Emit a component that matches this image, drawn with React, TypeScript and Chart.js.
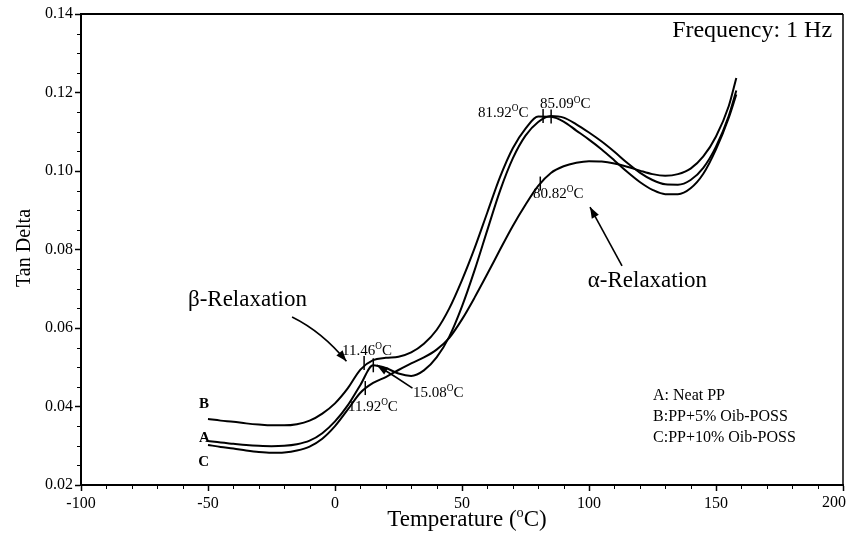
import React, { useEffect, useRef } from 'react';
import { Chart, registerables } from 'chart.js';

Chart.register(...registerables);

// ---- data ----
const temps = [-50, -45, -40, -35, -30, -25, -20, -15, -10, -5, 0, 5, 10, 15, 20, 25, 30, 35, 40, 45, 50, 55, 60, 65, 70, 75, 80, 85, 90, 95, 100, 105, 110, 115, 120, 125, 130, 135, 140, 145, 150, 155, 158];

const tanA = [0.0312, 0.0308, 0.0305, 0.0302, 0.0300, 0.0299, 0.0300, 0.0304, 0.0313, 0.0332, 0.0362, 0.0403, 0.0455, 0.0505, 0.0498, 0.0484, 0.0478, 0.0492, 0.0525, 0.0578, 0.0655, 0.0748, 0.0850, 0.0950, 0.1032, 0.1090, 0.1125, 0.1140, 0.1136, 0.1119, 0.1098, 0.1075, 0.1049, 0.1021, 0.0996, 0.0977, 0.0966, 0.0965, 0.0977, 0.1008, 0.1062, 0.1140, 0.1205];

const tanB = [0.0368, 0.0364, 0.0361, 0.0357, 0.0354, 0.0352, 0.0352, 0.0355, 0.0364, 0.0382, 0.0408, 0.0446, 0.0494, 0.0518, 0.0524, 0.0527, 0.0538, 0.0560, 0.0595, 0.0650, 0.0722, 0.0804, 0.0895, 0.0985, 0.1058, 0.1108, 0.1139, 0.1138, 0.1126, 0.1103, 0.1080, 0.1055, 0.1027, 0.0998, 0.0972, 0.0952, 0.0941, 0.0941, 0.0956, 0.0993, 0.1055, 0.1135, 0.1195];

const tanC = [0.0302, 0.0297, 0.0293, 0.0288, 0.0284, 0.0282, 0.0283, 0.0288, 0.0298, 0.0318, 0.0350, 0.0392, 0.0435, 0.0460, 0.0475, 0.0493, 0.0510, 0.0525, 0.0545, 0.0575, 0.0622, 0.0678, 0.0738, 0.0800, 0.0860, 0.0914, 0.0962, 0.0995, 0.1012, 0.1021, 0.1025, 0.1024, 0.1019, 0.1011, 0.1001, 0.0992, 0.0988, 0.0992, 0.1006, 0.1037, 0.1088, 0.1165, 0.1237];

const seriesNames = ['A', 'B', 'C'];
const legendLines = ['A: Neat PP', 'B:PP+5% Oib-POSS', 'C:PP+10% Oib-POSS'];

// peak markers
const markerTemps = [11.46, 15.08, 11.92, 81.92, 85.09, 80.82];
const markerVals = [0.0511, 0.0505, 0.0447, 0.1140, 0.1139, 0.0968];

const xMin = -100, xMax = 200, xStep = 50, xMinor = 10;
const yMin = 0.02, yMax = 0.14, yStep = 0.02, yMinor = 0.005;

const SERIF = '"Liberation Serif", "Times New Roman", serif';

function drawSup(ctx: CanvasRenderingContext2D, before: string, sup: string, after: string, x: number, y: number, size: number, align: 'left' | 'center' | 'right' = 'left') {
  const small = size * 0.62;
  ctx.font = `${size}px ${SERIF}`;
  const w1 = ctx.measureText(before).width;
  const w3 = ctx.measureText(after).width;
  ctx.font = `${small}px ${SERIF}`;
  const w2 = ctx.measureText(sup).width;
  const total = w1 + w2 + w3;
  let sx = x;
  if (align === 'center') sx = x - total / 2;
  if (align === 'right') sx = x - total;
  ctx.textAlign = 'left';
  ctx.textBaseline = 'alphabetic';
  ctx.font = `${size}px ${SERIF}`;
  ctx.fillText(before, sx, y);
  ctx.font = `${small}px ${SERIF}`;
  ctx.fillText(sup, sx + w1, y - size * 0.38);
  ctx.font = `${size}px ${SERIF}`;
  ctx.fillText(after, sx + w1 + w2, y);
}

function arrow(ctx: CanvasRenderingContext2D, x0: number, y0: number, cx: number, cy: number, x1: number, y1: number) {
  ctx.beginPath();
  ctx.moveTo(x0, y0);
  ctx.quadraticCurveTo(cx, cy, x1, y1);
  ctx.lineWidth = 1.6;
  ctx.strokeStyle = '#000';
  ctx.stroke();
  const ang = Math.atan2(y1 - cy, x1 - cx);
  const L = 11, W = 4;
  ctx.beginPath();
  ctx.moveTo(x1, y1);
  ctx.lineTo(x1 - L * Math.cos(ang) + W * Math.sin(ang), y1 - L * Math.sin(ang) - W * Math.cos(ang));
  ctx.lineTo(x1 - L * Math.cos(ang) - W * Math.sin(ang), y1 - L * Math.sin(ang) + W * Math.cos(ang));
  ctx.closePath();
  ctx.fillStyle = '#000';
  ctx.fill();
}

const annotPlugin = {
  id: 'annot',
  afterDraw(chart: any) {
    const ctx: CanvasRenderingContext2D = chart.ctx;
    const xs = chart.scales.x, ys = chart.scales.y;
    const px = (t: number) => xs.getPixelForValue(t);
    const py = (v: number) => ys.getPixelForValue(v);
    const { left, right, top, bottom } = chart.chartArea;
    ctx.save();
    ctx.strokeStyle = '#000';
    ctx.fillStyle = '#000';
    // frame top / right
    ctx.lineWidth = 2;
    ctx.beginPath();
    ctx.moveTo(left, top);
    ctx.lineTo(right, top);
    ctx.stroke();
    ctx.lineWidth = 1.5;
    ctx.beginPath();
    ctx.moveTo(right, top);
    ctx.lineTo(right, bottom);
    ctx.stroke();
    // minor ticks
    ctx.lineWidth = 1;
    for (let t = xMin; t <= xMax + 1e-9; t += xMinor) {
      if (Math.abs(t % xStep) < 1e-9) continue;
      const X = Math.round(px(t)) + 0.5;
      ctx.beginPath();
      ctx.moveTo(X, bottom);
      ctx.lineTo(X, bottom + 4);
      ctx.stroke();
    }
    for (let k = 0; k <= Math.round((yMax - yMin) / yMinor); k++) {
      if (k % Math.round(yStep / yMinor) === 0) continue;
      const Y = Math.round(py(yMin + k * yMinor)) + 0.5;
      ctx.beginPath();
      ctx.moveTo(left - 4, Y);
      ctx.lineTo(left, Y);
      ctx.stroke();
    }
    // last x tick label, kept inside the canvas
    ctx.font = `16px ${SERIF}`;
    ctx.textAlign = 'right';
    ctx.textBaseline = 'alphabetic';
    ctx.fillText(String(xMax), px(xMax) + 3, bottom + 22);
    // peak markers
    ctx.lineWidth = 1.5;
    markerTemps.forEach((t, i) => {
      const X = px(t), Y = py(markerVals[i]);
      ctx.beginPath();
      ctx.moveTo(X, Y - 7);
      ctx.lineTo(X, Y + 7);
      ctx.stroke();
    });
    // marker labels
    const lab = (t: number) => t.toFixed(2);
    drawSup(ctx, lab(markerTemps[3]), 'O', 'C', px(56.3), py(0.1138), 15);
    drawSup(ctx, lab(markerTemps[4]), 'O', 'C', px(80.7), py(0.1160), 15);
    drawSup(ctx, lab(markerTemps[5]), 'O', 'C', px(78), py(0.0931), 15);
    drawSup(ctx, lab(markerTemps[0]), 'O', 'C', px(2.8), py(0.0531), 15);
    drawSup(ctx, lab(markerTemps[1]), 'O', 'C', px(30.7), py(0.0424), 15);
    drawSup(ctx, lab(markerTemps[2]), 'O', 'C', px(5.1), py(0.0389), 15);
    // relaxation labels
    ctx.textAlign = 'left';
    ctx.textBaseline = 'alphabetic';
    ctx.font = `23px ${SERIF}`;
    ctx.fillText('\u03B2-Relaxation', px(-57.9), py(0.0656));
    ctx.fillText('\u03B1-Relaxation', px(99.5), py(0.0704));
    // arrows
    arrow(ctx, px(-16.9), py(0.0628), px(-5), py(0.0590), px(4.5), py(0.0515));
    arrow(ctx, px(30.5), py(0.0447), px(24), py(0.0475), px(16.5), py(0.0505));
    arrow(ctx, px(113), py(0.0758), px(107), py(0.0830), px(100.4), py(0.0908));
    // frequency
    ctx.font = `24px ${SERIF}`;
    ctx.textAlign = 'right';
    ctx.fillText('Frequency: 1 Hz', px(195.7), py(0.1341));
    // curve letters
    ctx.textAlign = 'left';
    ctx.font = `bold 15px ${SERIF}`;
    ctx.fillText(seriesNames[1], px(-53.5), py(0.0396));
    ctx.fillText(seriesNames[0], px(-53.5), py(0.0310));
    ctx.fillText(seriesNames[2], px(-53.8), py(0.0248));
    // legend text
    ctx.font = `16px ${SERIF}`;
    const lv = [0.0417, 0.0363, 0.0310];
    legendLines.forEach((s, i) => ctx.fillText(s, px(125.2), py(lv[i])));
    // axis titles
    drawSup(ctx, 'Temperature (', 'o', 'C)', 467, 526, 23, 'center');
    ctx.save();
    ctx.translate(30, 248);
    ctx.rotate(-Math.PI / 2);
    ctx.font = `20px ${SERIF}`;
    ctx.textAlign = 'center';
    ctx.fillText('Tan Delta', 0, 0);
    ctx.restore();
    ctx.restore();
  },
};

export default function App() {
  const ref = useRef<HTMLCanvasElement>(null);
  useEffect(() => {
    if (!ref.current) return;
    const mk = (vals: number[]) => temps.map((t, i) => ({ x: t, y: vals[i] }));
    const ds = (label: string, vals: number[]) => ({
      label,
      data: mk(vals),
      borderColor: '#000',
      borderWidth: 2,
      pointRadius: 0,
      fill: false,
      cubicInterpolationMode: 'monotone' as const,
    });
    const chart = new Chart(ref.current, {
      type: 'line',
      data: { datasets: [ds('A', tanA), ds('B', tanB), ds('C', tanC)] },
      options: {
        responsive: false,
        animation: false,
        layout: { padding: { top: 14, right: 6, left: 0, bottom: 0 } },
        plugins: { legend: { display: false }, tooltip: { enabled: false } },
        scales: {
          x: {
            type: 'linear',
            min: xMin,
            max: xMax,
            afterFit: (s: any) => { s.height = 50; s.paddingLeft = 0; s.paddingRight = 0; },
            ticks: { stepSize: xStep, color: '#000', font: { family: SERIF, size: 16 }, padding: 3, maxRotation: 0, callback: (v: any) => (Number(v) === xMax ? '' : String(v)) },
            grid: { drawOnChartArea: false, drawTicks: true, tickLength: 6, color: '#000', tickWidth: 1.5 },
            border: { color: '#000', width: 2 },
          },
          y: {
            type: 'linear',
            min: yMin,
            max: yMax,
            afterFit: (s: any) => { s.width = 81; s.paddingTop = 0; s.paddingBottom = 0; },
            ticks: { stepSize: yStep, color: '#000', font: { family: SERIF, size: 16 }, padding: 2, callback: (v: any) => Number(v).toFixed(2) },
            grid: { drawOnChartArea: false, drawTicks: true, tickLength: 6, color: '#000', tickWidth: 1.5 },
            border: { color: '#000', width: 2 },
          },
        },
      },
      plugins: [annotPlugin],
    });
    return () => chart.destroy();
  }, []);
  return (
    <div style={{ position: 'absolute', left: 0, top: 0, width: 849, height: 535, background: '#fff' }}>
      <canvas ref={ref} width={849} height={535} />
    </div>
  );
}
